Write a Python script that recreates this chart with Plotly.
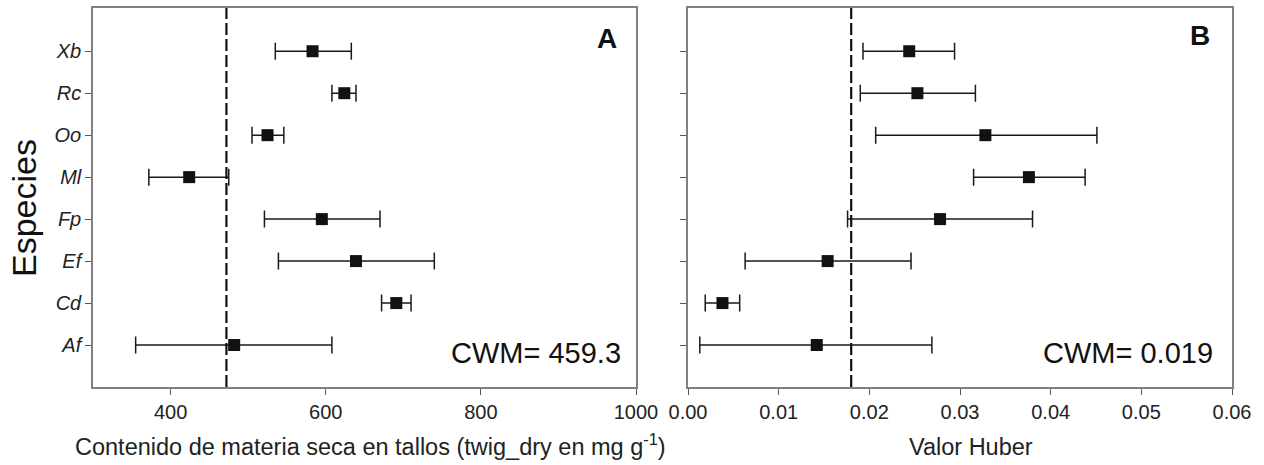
import plotly.graph_objects as go

# ---- data ----
species = ["Xb", "Rc", "Oo", "Ml", "Fp", "Ef", "Cd", "Af"]  # top to bottom

twig_mean = [583, 624, 525, 424, 595, 639, 691, 482]
twig_low = [535, 608, 505, 372, 521, 539, 672, 355]
twig_high = [633, 639, 546, 475, 670, 740, 710, 608]
twig_cwm_line = 472
twig_cwm_text = "CWM= 459.3"

huber_mean = [0.0244, 0.0253, 0.0328, 0.0376, 0.0278, 0.0154, 0.0038, 0.0142]
huber_low = [0.0193, 0.0190, 0.0207, 0.0315, 0.0176, 0.0063, 0.0019, 0.0013]
huber_high = [0.0294, 0.0317, 0.0451, 0.0438, 0.0380, 0.0246, 0.0057, 0.0269]
huber_cwm_line = 0.0180
huber_cwm_text = "CWM= 0.019"

xticks_a = [400, 600, 800, 1000]
xticks_b = [0.00, 0.01, 0.02, 0.03, 0.04, 0.05, 0.06]

# ---- figure ----
W, H = 1264, 465
FONT = "Arial, Liberation Sans, sans-serif"
ypos = list(range(len(species), 0, -1))  # Xb at top

fig = go.Figure()

def add_series(xmean, xlow, xhigh, xa, ya):
    plus = [h - m for m, h in zip(xmean, xhigh)]
    minus = [m - l for m, l in zip(xmean, xlow)]
    fig.add_trace(go.Scatter(
        x=xmean, y=ypos, mode="markers", xaxis=xa, yaxis=ya,
        marker=dict(symbol="square", size=12, color="#111111"),
        error_x=dict(type="data", array=plus, arrayminus=minus, symmetric=False,
                     color="#1a1a1a", thickness=1.5, width=8.5),
        showlegend=False, hoverinfo="x+y"))

add_series(twig_mean, twig_low, twig_high, "x", "y")
add_series(huber_mean, huber_low, huber_high, "x2", "y2")

xa_dom = [93 / W, 636 / W]
xb_dom = [688 / W, 1232 / W]
y_dom = [1 - 387 / H, 1 - 8 / H]

axis_common = dict(showline=True, linecolor="#808080", linewidth=1.5, mirror=True,
                   ticks="outside", ticklen=6, tickcolor="#555555", tickwidth=1.2,
                   showgrid=False, zeroline=False, automargin=False,
                   tickfont=dict(family=FONT, size=20, color="#222222"))

fig.update_layout(
    width=W, height=H,
    margin=dict(l=0, r=0, t=0, b=0),
    paper_bgcolor="white", plot_bgcolor="white",
    xaxis=dict(domain=xa_dom, range=[300, 1000], tickvals=xticks_a,
               ticktext=[str(v) for v in xticks_a], anchor="y", **axis_common),
    yaxis=dict(domain=y_dom, range=[0, 9.03], tickvals=ypos,
               ticktext=["<i>%s</i>" % s for s in species], anchor="x",
               **axis_common),
    xaxis2=dict(domain=xb_dom, range=[0, 0.06], tickvals=xticks_b,
                ticktext=["%.2f" % v for v in xticks_b], anchor="y2", **axis_common),
    yaxis2=dict(domain=y_dom, range=[0, 9.03], tickvals=ypos,
                showticklabels=False, anchor="x2", **axis_common),
)

# dashed CWM lines
for xref, yref, xv in [("x", "y domain", twig_cwm_line), ("x2", "y2 domain", huber_cwm_line)]:
    fig.add_shape(type="line", xref=xref, yref=yref, x0=xv, x1=xv, y0=0, y1=1,
                  line=dict(color="#111111", width=2.2, dash="12px,4px"))

ann = []
ann.append(dict(text="<b>A</b>", x=607 / W, y=1 - 39 / H, xref="paper", yref="paper",
                showarrow=False, font=dict(family=FONT, size=28, color="#111111"),
                xanchor="center", yanchor="middle"))
ann.append(dict(text="<b>B</b>", x=1200 / W, y=1 - 35 / H, xref="paper", yref="paper",
                showarrow=False, font=dict(family=FONT, size=28, color="#111111"),
                xanchor="center", yanchor="middle"))
ann.append(dict(text=twig_cwm_text, x=623 / W, y=1 - 353 / H, xref="paper", yref="paper",
                showarrow=False, font=dict(family=FONT, size=29, color="#111111"),
                xanchor="right", yanchor="middle"))
ann.append(dict(text=huber_cwm_text, x=1215 / W, y=1 - 353 / H, xref="paper", yref="paper",
                showarrow=False, font=dict(family=FONT, size=29, color="#111111"),
                xanchor="right", yanchor="middle"))
ann.append(dict(text="Contenido de materia seca en tallos (twig_dry en mg g<sup>-1</sup>)",
                x=370 / W, y=1 - 445 / H, xref="paper", yref="paper", showarrow=False,
                font=dict(family=FONT, size=23.5, color="#222222"),
                xanchor="center", yanchor="middle"))
ann.append(dict(text="Valor Huber", x=971 / W, y=1 - 447 / H, xref="paper", yref="paper",
                showarrow=False, font=dict(family=FONT, size=23.5, color="#222222"),
                xanchor="center", yanchor="middle"))
ann.append(dict(text="Especies", x=24 / W, y=1 - 208 / H, xref="paper", yref="paper",
                showarrow=False, textangle=-90,
                font=dict(family=FONT, size=34, color="#111111"),
                xanchor="center", yanchor="middle"))
fig.update_layout(annotations=ann)

fig.write_html("out.html")
